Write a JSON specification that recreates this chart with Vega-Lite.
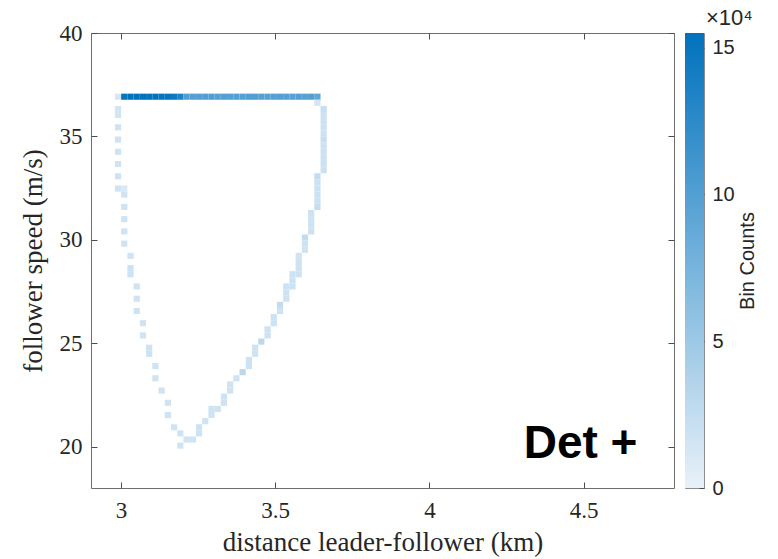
{
  "$schema": "https://vega.github.io/schema/vega-lite/v6.json",
  "background": "white",
  "padding": {"left": 18, "top": 6, "right": 5, "bottom": 5},
  "spacing": 11,
  "bounds": "flush",
  "config": {
    "view": {"stroke": "#6e6e6e", "strokeWidth": 1},
    "axis": {
      "domain": false,
      "grid": false,
      "tickColor": "#4d4d4d",
      "tickSize": -6,
      "labelFont": "Liberation Serif",
      "labelFontSize": 23,
      "labelColor": "#262626",
      "titleFont": "Liberation Serif",
      "titleFontSize": 27,
      "titleFontWeight": "normal",
      "titleColor": "#262626",
      "labelFlush": false
    }
  },
  "hconcat": [
    {
      "width": 583,
      "height": 455,
      "layer": [
        {
          "data": {"values": [
            {"x0": 2.9805, "x1": 3.0007, "y0": 36.772, "y1": 37.068, "n": 12000},
            {"x0": 3.0007, "x1": 3.0209, "y0": 36.772, "y1": 37.068, "n": 153000},
            {"x0": 3.0209, "x1": 3.0411, "y0": 36.772, "y1": 37.068, "n": 154000},
            {"x0": 3.0411, "x1": 3.0613, "y0": 36.772, "y1": 37.068, "n": 155000},
            {"x0": 3.0613, "x1": 3.0815, "y0": 36.772, "y1": 37.068, "n": 154000},
            {"x0": 3.0815, "x1": 3.1017, "y0": 36.772, "y1": 37.068, "n": 153000},
            {"x0": 3.1017, "x1": 3.1219, "y0": 36.772, "y1": 37.068, "n": 154000},
            {"x0": 3.1219, "x1": 3.1421, "y0": 36.772, "y1": 37.068, "n": 152000},
            {"x0": 3.1421, "x1": 3.1623, "y0": 36.772, "y1": 37.068, "n": 151000},
            {"x0": 3.1623, "x1": 3.1825, "y0": 36.772, "y1": 37.068, "n": 146000},
            {"x0": 3.1825, "x1": 3.2027, "y0": 36.772, "y1": 37.068, "n": 135000},
            {"x0": 3.2027, "x1": 3.2229, "y0": 36.772, "y1": 37.068, "n": 101000},
            {"x0": 3.2229, "x1": 3.2431, "y0": 36.772, "y1": 37.068, "n": 100000},
            {"x0": 3.2431, "x1": 3.2633, "y0": 36.772, "y1": 37.068, "n": 99000},
            {"x0": 3.2633, "x1": 3.2835, "y0": 36.772, "y1": 37.068, "n": 100000},
            {"x0": 3.2835, "x1": 3.3037, "y0": 36.772, "y1": 37.068, "n": 102000},
            {"x0": 3.3037, "x1": 3.3239, "y0": 36.772, "y1": 37.068, "n": 98000},
            {"x0": 3.3239, "x1": 3.3441, "y0": 36.772, "y1": 37.068, "n": 99000},
            {"x0": 3.3441, "x1": 3.3643, "y0": 36.772, "y1": 37.068, "n": 100000},
            {"x0": 3.3643, "x1": 3.3845, "y0": 36.772, "y1": 37.068, "n": 99000},
            {"x0": 3.3845, "x1": 3.4047, "y0": 36.772, "y1": 37.068, "n": 98000},
            {"x0": 3.4047, "x1": 3.4249, "y0": 36.772, "y1": 37.068, "n": 100000},
            {"x0": 3.4249, "x1": 3.4451, "y0": 36.772, "y1": 37.068, "n": 101000},
            {"x0": 3.4451, "x1": 3.4653, "y0": 36.772, "y1": 37.068, "n": 99000},
            {"x0": 3.4653, "x1": 3.4855, "y0": 36.772, "y1": 37.068, "n": 98000},
            {"x0": 3.4855, "x1": 3.5057, "y0": 36.772, "y1": 37.068, "n": 99000},
            {"x0": 3.5057, "x1": 3.5259, "y0": 36.772, "y1": 37.068, "n": 100000},
            {"x0": 3.5259, "x1": 3.5461, "y0": 36.772, "y1": 37.068, "n": 99000},
            {"x0": 3.5461, "x1": 3.5663, "y0": 36.772, "y1": 37.068, "n": 98000},
            {"x0": 3.5663, "x1": 3.5865, "y0": 36.772, "y1": 37.068, "n": 99000},
            {"x0": 3.5865, "x1": 3.6067, "y0": 36.772, "y1": 37.068, "n": 97000},
            {"x0": 3.6067, "x1": 3.6269, "y0": 36.772, "y1": 37.068, "n": 100000},
            {"x0": 3.6269, "x1": 3.6471, "y0": 36.772, "y1": 37.068, "n": 93000},

            {"x0": 2.9805, "x1": 3.0007, "y0": 36.180, "y1": 36.476, "n": 15000},
            {"x0": 2.9805, "x1": 3.0007, "y0": 35.884, "y1": 36.180, "n": 15000},
            {"x0": 2.9805, "x1": 3.0007, "y0": 35.292, "y1": 35.588, "n": 17000},
            {"x0": 2.9805, "x1": 3.0007, "y0": 34.700, "y1": 34.996, "n": 17000},
            {"x0": 2.9805, "x1": 3.0007, "y0": 34.108, "y1": 34.404, "n": 17000},
            {"x0": 2.9805, "x1": 3.0007, "y0": 33.516, "y1": 33.812, "n": 17000},
            {"x0": 2.9805, "x1": 3.0007, "y0": 32.924, "y1": 33.220, "n": 17000},
            {"x0": 2.9805, "x1": 3.0007, "y0": 32.332, "y1": 32.628, "n": 17000},

            {"x0": 3.0007, "x1": 3.0209, "y0": 32.332, "y1": 32.628, "n": 11000},
            {"x0": 3.0007, "x1": 3.0209, "y0": 32.036, "y1": 32.332, "n": 17000},
            {"x0": 3.0007, "x1": 3.0209, "y0": 31.444, "y1": 31.740, "n": 17000},
            {"x0": 3.0007, "x1": 3.0209, "y0": 30.852, "y1": 31.148, "n": 17000},
            {"x0": 3.0007, "x1": 3.0209, "y0": 30.260, "y1": 30.556, "n": 17000},
            {"x0": 3.0007, "x1": 3.0209, "y0": 29.668, "y1": 29.964, "n": 17000},

            {"x0": 3.0209, "x1": 3.0411, "y0": 29.076, "y1": 29.372, "n": 17000},
            {"x0": 3.0209, "x1": 3.0411, "y0": 28.484, "y1": 28.780, "n": 18000},
            {"x0": 3.0209, "x1": 3.0411, "y0": 28.188, "y1": 28.484, "n": 18000},

            {"x0": 3.0411, "x1": 3.0613, "y0": 27.596, "y1": 27.892, "n": 17000},
            {"x0": 3.0411, "x1": 3.0613, "y0": 27.004, "y1": 27.300, "n": 17000},
            {"x0": 3.0411, "x1": 3.0613, "y0": 26.412, "y1": 26.708, "n": 17000},

            {"x0": 3.0613, "x1": 3.0815, "y0": 25.820, "y1": 26.116, "n": 17000},
            {"x0": 3.0613, "x1": 3.0815, "y0": 25.228, "y1": 25.524, "n": 17000},

            {"x0": 3.0815, "x1": 3.1017, "y0": 24.636, "y1": 24.932, "n": 18000},
            {"x0": 3.0815, "x1": 3.1017, "y0": 24.340, "y1": 24.636, "n": 18000},

            {"x0": 3.1017, "x1": 3.1219, "y0": 23.748, "y1": 24.044, "n": 17000},
            {"x0": 3.1017, "x1": 3.1219, "y0": 23.156, "y1": 23.452, "n": 17000},

            {"x0": 3.1219, "x1": 3.1421, "y0": 22.564, "y1": 22.860, "n": 17000},

            {"x0": 3.1421, "x1": 3.1623, "y0": 21.972, "y1": 22.268, "n": 17000},
            {"x0": 3.1421, "x1": 3.1623, "y0": 21.380, "y1": 21.676, "n": 17000},

            {"x0": 3.1623, "x1": 3.1825, "y0": 20.788, "y1": 21.084, "n": 17000},

            {"x0": 3.1825, "x1": 3.2027, "y0": 20.492, "y1": 20.788, "n": 17000},
            {"x0": 3.1825, "x1": 3.2027, "y0": 19.900, "y1": 20.196, "n": 17000},

            {"x0": 3.2027, "x1": 3.2229, "y0": 20.196, "y1": 20.492, "n": 17000},
            {"x0": 3.2229, "x1": 3.2431, "y0": 20.196, "y1": 20.492, "n": 17000},

            {"x0": 3.2431, "x1": 3.2633, "y0": 20.788, "y1": 21.084, "n": 18000},
            {"x0": 3.2431, "x1": 3.2633, "y0": 20.492, "y1": 20.788, "n": 18000},

            {"x0": 3.2633, "x1": 3.2835, "y0": 21.084, "y1": 21.380, "n": 17000},

            {"x0": 3.2835, "x1": 3.3037, "y0": 21.676, "y1": 21.972, "n": 17000},
            {"x0": 3.2835, "x1": 3.3037, "y0": 21.380, "y1": 21.676, "n": 17000},

            {"x0": 3.3037, "x1": 3.3239, "y0": 21.676, "y1": 21.972, "n": 17000},

            {"x0": 3.3239, "x1": 3.3441, "y0": 22.268, "y1": 22.564, "n": 18000},
            {"x0": 3.3239, "x1": 3.3441, "y0": 21.972, "y1": 22.268, "n": 18000},

            {"x0": 3.3441, "x1": 3.3643, "y0": 22.860, "y1": 23.156, "n": 17000},
            {"x0": 3.3441, "x1": 3.3643, "y0": 22.564, "y1": 22.860, "n": 17000},

            {"x0": 3.3643, "x1": 3.3845, "y0": 23.156, "y1": 23.452, "n": 17000},

            {"x0": 3.3845, "x1": 3.4047, "y0": 23.452, "y1": 23.748, "n": 30000},

            {"x0": 3.4047, "x1": 3.4249, "y0": 24.044, "y1": 24.340, "n": 18000},
            {"x0": 3.4047, "x1": 3.4249, "y0": 23.748, "y1": 24.044, "n": 18000},

            {"x0": 3.4249, "x1": 3.4451, "y0": 24.636, "y1": 24.932, "n": 18000},
            {"x0": 3.4249, "x1": 3.4451, "y0": 24.340, "y1": 24.636, "n": 17000},

            {"x0": 3.4451, "x1": 3.4653, "y0": 24.932, "y1": 25.228, "n": 30000},

            {"x0": 3.4653, "x1": 3.4855, "y0": 25.524, "y1": 25.820, "n": 18000},
            {"x0": 3.4653, "x1": 3.4855, "y0": 25.228, "y1": 25.524, "n": 18000},

            {"x0": 3.4855, "x1": 3.5057, "y0": 26.116, "y1": 26.412, "n": 18000},
            {"x0": 3.4855, "x1": 3.5057, "y0": 25.820, "y1": 26.116, "n": 18000},

            {"x0": 3.5057, "x1": 3.5259, "y0": 26.708, "y1": 27.004, "n": 25000},
            {"x0": 3.5057, "x1": 3.5259, "y0": 26.412, "y1": 26.708, "n": 18000},

            {"x0": 3.5259, "x1": 3.5461, "y0": 27.596, "y1": 27.892, "n": 18000},
            {"x0": 3.5259, "x1": 3.5461, "y0": 27.300, "y1": 27.596, "n": 18000},
            {"x0": 3.5259, "x1": 3.5461, "y0": 27.004, "y1": 27.300, "n": 18000},

            {"x0": 3.5461, "x1": 3.5663, "y0": 28.188, "y1": 28.484, "n": 18000},
            {"x0": 3.5461, "x1": 3.5663, "y0": 27.892, "y1": 28.188, "n": 18000},
            {"x0": 3.5461, "x1": 3.5663, "y0": 27.596, "y1": 27.892, "n": 18000},

            {"x0": 3.5663, "x1": 3.5865, "y0": 29.076, "y1": 29.372, "n": 17000},
            {"x0": 3.5663, "x1": 3.5865, "y0": 28.780, "y1": 29.076, "n": 18000},
            {"x0": 3.5663, "x1": 3.5865, "y0": 28.484, "y1": 28.780, "n": 18000},
            {"x0": 3.5663, "x1": 3.5865, "y0": 28.188, "y1": 28.484, "n": 18000},

            {"x0": 3.5865, "x1": 3.6067, "y0": 29.964, "y1": 30.260, "n": 25000},
            {"x0": 3.5865, "x1": 3.6067, "y0": 29.668, "y1": 29.964, "n": 18000},
            {"x0": 3.5865, "x1": 3.6067, "y0": 29.372, "y1": 29.668, "n": 18000},

            {"x0": 3.6067, "x1": 3.6269, "y0": 31.148, "y1": 31.444, "n": 19000},
            {"x0": 3.6067, "x1": 3.6269, "y0": 30.852, "y1": 31.148, "n": 18000},
            {"x0": 3.6067, "x1": 3.6269, "y0": 30.556, "y1": 30.852, "n": 18000},
            {"x0": 3.6067, "x1": 3.6269, "y0": 30.260, "y1": 30.556, "n": 19000},

            {"x0": 3.6269, "x1": 3.6471, "y0": 36.476, "y1": 36.772, "n": 15000},
            {"x0": 3.6269, "x1": 3.6471, "y0": 32.924, "y1": 33.220, "n": 24000},
            {"x0": 3.6269, "x1": 3.6471, "y0": 32.628, "y1": 32.924, "n": 19000},
            {"x0": 3.6269, "x1": 3.6471, "y0": 32.332, "y1": 32.628, "n": 19000},
            {"x0": 3.6269, "x1": 3.6471, "y0": 32.036, "y1": 32.332, "n": 19000},
            {"x0": 3.6269, "x1": 3.6471, "y0": 31.740, "y1": 32.036, "n": 19000},
            {"x0": 3.6269, "x1": 3.6471, "y0": 31.444, "y1": 31.740, "n": 24000},

            {"x0": 3.6471, "x1": 3.6673, "y0": 36.180, "y1": 36.476, "n": 23000},
            {"x0": 3.6471, "x1": 3.6673, "y0": 35.884, "y1": 36.180, "n": 19000},
            {"x0": 3.6471, "x1": 3.6673, "y0": 35.588, "y1": 35.884, "n": 19000},
            {"x0": 3.6471, "x1": 3.6673, "y0": 35.292, "y1": 35.588, "n": 19000},
            {"x0": 3.6471, "x1": 3.6673, "y0": 34.996, "y1": 35.292, "n": 19000},
            {"x0": 3.6471, "x1": 3.6673, "y0": 34.700, "y1": 34.996, "n": 23000},
            {"x0": 3.6471, "x1": 3.6673, "y0": 34.404, "y1": 34.700, "n": 19000},
            {"x0": 3.6471, "x1": 3.6673, "y0": 34.108, "y1": 34.404, "n": 19000},
            {"x0": 3.6471, "x1": 3.6673, "y0": 33.812, "y1": 34.108, "n": 19000},
            {"x0": 3.6471, "x1": 3.6673, "y0": 33.516, "y1": 33.812, "n": 19000},
            {"x0": 3.6471, "x1": 3.6673, "y0": 33.220, "y1": 33.516, "n": 19000}
          ]},
          "mark": {"type": "rect"},
          "encoding": {
            "x": {
              "field": "x0", "type": "quantitative",
              "scale": {"domain": [2.903, 4.793], "nice": false, "zero": false},
              "axis": {"orient": "bottom", "values": [3, 3.5, 4, 4.5], "format": "~g", "title": "distance leader-follower (km)", "labelPadding": 17, "titlePadding": 7}
            },
            "x2": {"field": "x1"},
            "y": {
              "field": "y0", "type": "quantitative",
              "scale": {"domain": [18, 40], "nice": false, "zero": false},
              "axis": {"orient": "left", "values": [20, 25, 30, 35, 40], "title": "follower speed (m/s)", "labelPadding": 15, "titlePadding": 12}
            },
            "y2": {"field": "y1"},
            "color": {
              "field": "n", "type": "quantitative",
              "scale": {"domain": [0, 155000], "range": ["#e8f1f9", "#0072bd"], "interpolate": "rgb"},
              "legend": null
            }
          }
        },
        {
          "data": {"values": [{"x": 4.49, "y": 19.47, "label": "Det +"}]},
          "mark": {"type": "text", "font": "Liberation Sans", "fontSize": 46, "fontWeight": "bold", "align": "center", "baseline": "alphabetic", "color": "#000000"},
          "encoding": {
            "x": {"field": "x", "type": "quantitative", "axis": {"orient": "top", "labels": false, "title": null, "values": [3, 3.5, 4, 4.5]}},
            "y": {"field": "y", "type": "quantitative", "axis": {"orient": "right", "labels": false, "title": null, "values": [20, 25, 30, 35, 40]}},
            "text": {"field": "label"}
          }
        }
      ],
      "resolve": {"axis": {"x": "independent", "y": "independent"}}
    },
    {
      "width": 19,
      "height": 455,
      "view": {"stroke": "#8c8c8c"},
      "title": {"text": "×10⁴", "anchor": "start", "dx": 21, "font": "Liberation Sans", "fontSize": 22, "fontWeight": "normal", "color": "#262626", "offset": 3},
      "data": {"values": [{"lo": 0, "hi": 155000}]},
      "mark": {
        "type": "rect",
        "fill": {"gradient": "linear", "x1": 0, "y1": 1, "x2": 0, "y2": 0, "stops": [{"offset": 0, "color": "#e8f1f9"}, {"offset": 1, "color": "#0072bd"}]}
      },
      "encoding": {
        "x": {"datum": 0, "type": "quantitative", "scale": {"domain": [0, 1]}, "axis": null},
        "x2": {"datum": 1},
        "y": {
          "field": "lo", "type": "quantitative",
          "scale": {"domain": [0, 155000], "nice": false, "zero": false},
          "axis": {
            "orient": "right", "values": [0, 50000, 100000, 150000],
            "labelExpr": "datum.value / 10000",
            "tickSize": -5,
            "labelFont": "Liberation Sans", "labelFontSize": 20, "labelPadding": 13,
            "title": "Bin Counts", "titleFont": "Liberation Sans", "titleFontSize": 20,
            "titleAngle": -90, "titleBaseline": "top", "titlePadding": 3
          }
        },
        "y2": {"field": "hi"}
      }
    }
  ]
}
